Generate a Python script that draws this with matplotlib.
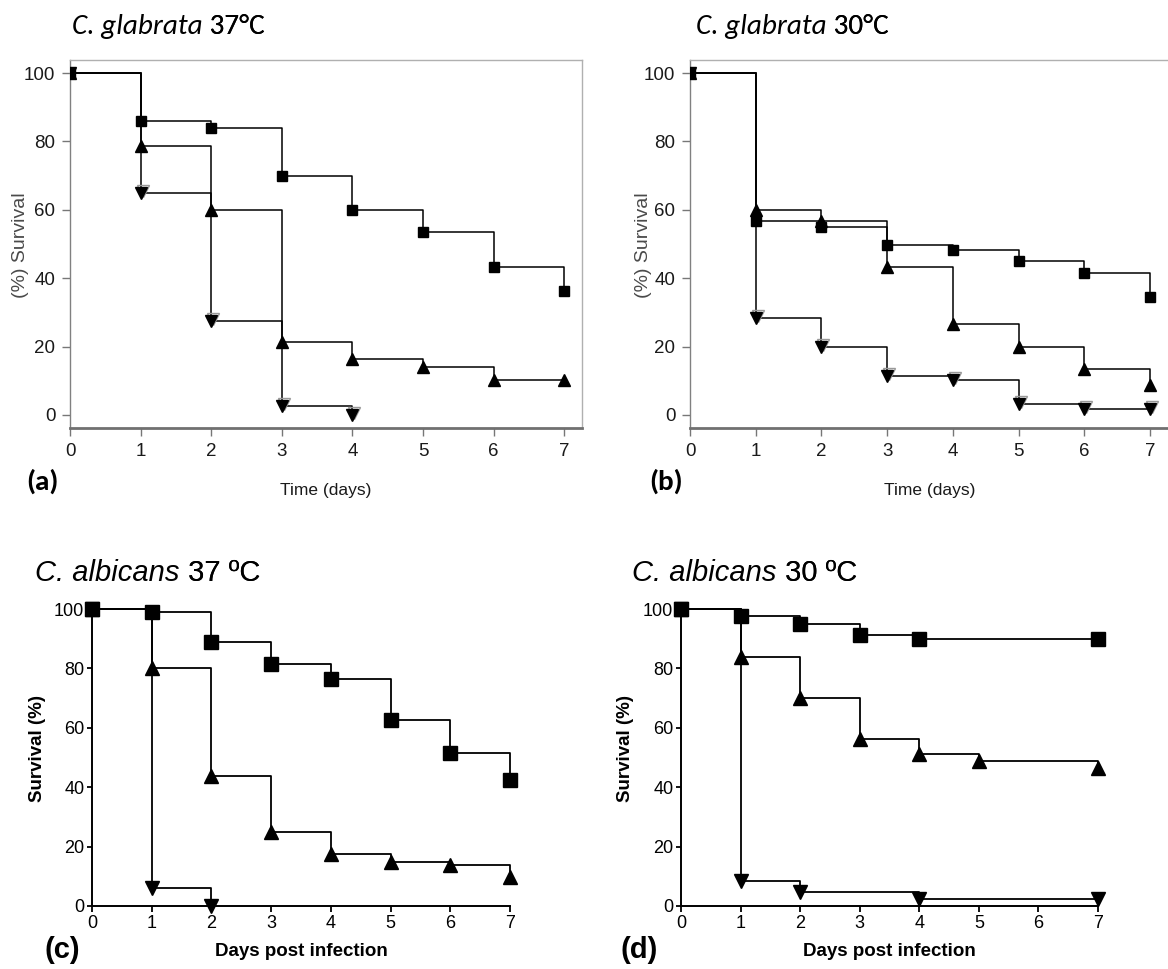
import matplotlib
matplotlib.use('Agg')
import matplotlib.pyplot as plt
from matplotlib import font_manager
from matplotlib.transforms import offset_copy

# survival curves (percent alive per day)
days = [0, 1, 2, 3, 4, 5, 6, 7]

a_sq = [100, 86, 83.8, 70, 60, 53.6, 43.4, 36.3]
a_tri = [100, 78.7, 60, 21.3, 16.3, 14.1, 10.2, 10.2]
a_inv_days = [0, 1, 2, 3, 4]
a_inv = [100, 64.8, 27.5, 2.5, 0]

b_sq = [100, 56.8, 54.9, 49.8, 48.3, 44.9, 41.4, 34.6]
b_tri = [100, 60, 56.6, 43.3, 26.7, 20, 13.4, 8.8]
b_inv = [100, 28.3, 20, 11.5, 10.1, 3.2, 1.7, 1.7]

c_sq = [100, 99, 88.8, 81.5, 76.5, 62.5, 51.5, 42.5]
c_tri = [100, 80.3, 43.8, 24.9, 17.5, 14.9, 13.8, 9.9]
c_inv_days = [0, 1, 2]
c_inv = [100, 6.2, 0]

d_sq_days = [0, 1, 2, 3, 4, 7]
d_sq = [100, 97.5, 94.9, 91.1, 90, 90]
d_tri_days = [0, 1, 2, 3, 4, 5, 7]
d_tri = [100, 83.8, 70, 56.3, 51.3, 48.7, 46.5]
d_inv_days = [0, 1, 2, 4, 7]
d_inv = [100, 8.5, 4.8, 2.4, 2.4]

titles = [('C. glabrata', ' 37°C'), ('C. glabrata', ' 30°C'),
          ('C. albicans', ' 37 ºC'), ('C. albicans', ' 30 ºC')]

names = {f.name for f in font_manager.fontManager.ttflist}
SANS = 'Liberation Sans Narrow' if 'Liberation Sans Narrow' in names else 'Liberation Sans'
CAL = 'Carlito' if 'Carlito' in names else 'Lato'

W, H = 1168, 969
fig = plt.figure(figsize=(W / 100, H / 100), dpi=100)


def px_axes(x0, y0, x1, y1):
    return fig.add_axes([x0 / W, 1 - y1 / H, (x1 - x0) / W, (y1 - y0) / H])


def ftext(x, y, s, **kw):
    return fig.text(x / W, 1 - y / H, s, **kw)


def curve(ax, x, y, marker, ms, lw, clip=True, shadow=False):
    ax.step(x, y, where='post', color='k', lw=lw, zorder=2, clip_on=clip)
    if shadow:
        tr = offset_copy(ax.transData, fig=fig, x=2, y=2, units='dots')
        ax.plot(x[1:], y[1:], marker, ms=ms, mfc='none', mec='#999999', mew=1,
                transform=tr, zorder=3, clip_on=clip)
    ax.plot(x, y, marker, color='k', ms=ms, zorder=4, clip_on=clip)


def glabrata_axes(ax, xmax):
    ax.set_xlim(0, xmax)
    ax.set_ylim(-3.95, 103.95)
    ax.set_xticks(range(8))
    ax.set_yticks(range(0, 101, 20))
    for s in ['top', 'right']:
        ax.spines[s].set_color('#b0b0b0')
        ax.spines[s].set_linewidth(1)
    ax.spines['left'].set_color('#808080')
    ax.spines['left'].set_linewidth(1)
    ax.spines['bottom'].set_color('#707070')
    ax.spines['bottom'].set_linewidth(2)
    ax.tick_params(direction='out', length=5.5, width=1, color='#777777',
                   labelcolor='#1a1a1a', pad=5)
    for lab in ax.get_xticklabels() + ax.get_yticklabels():
        lab.set_family(SANS)
        lab.set_fontsize(13.5)


def albicans_axes(ax):
    ax.set_xlim(0, 7)
    ax.set_ylim(0, 100)
    ax.set_xticks(range(8))
    ax.set_yticks(range(0, 101, 20))
    ax.spines['top'].set_visible(False)
    ax.spines['right'].set_visible(False)
    for s in ['left', 'bottom']:
        ax.spines[s].set_linewidth(1.4)
    ax.tick_params(direction='out', length=4.5, width=1.3, pad=2)
    ax.tick_params(axis='y', length=3.5)
    for lab in ax.get_xticklabels() + ax.get_yticklabels():
        lab.set_family(SANS)
        lab.set_fontsize(13)


# (a) C. glabrata 37
ax = px_axes(70, 59.5, 582, 428.5)
glabrata_axes(ax, 7.25)
curve(ax, a_inv_days, a_inv, 'v', 9, 1.1, shadow=True)
curve(ax, days, a_tri, '^', 9, 1.1)
curve(ax, days, a_sq, 's', 7.5, 1.1)

# (b) C. glabrata 30
ax = px_axes(690, 59.5, 1175, 428.5)
glabrata_axes(ax, 7.38)
curve(ax, days, b_inv, 'v', 9, 1.1, shadow=True)
curve(ax, days, b_tri, '^', 9, 1.1)
curve(ax, days, b_sq, 's', 7.5, 1.1)

# (c) C. albicans 37
ax = px_axes(92, 609, 510, 906)
albicans_axes(ax)
curve(ax, c_inv_days, c_inv, 'v', 10, 1.3, clip=False)
curve(ax, days, c_tri, '^', 10.5, 1.3, clip=False)
curve(ax, days, c_sq, 's', 10, 1.3, clip=False)

# (d) C. albicans 30
ax = px_axes(681, 609, 1098, 906)
albicans_axes(ax)
curve(ax, d_inv_days, d_inv, 'v', 10, 1.3, clip=False)
curve(ax, d_tri_days, d_tri, '^', 10.5, 1.3, clip=False)
curve(ax, d_sq_days, d_sq, 's', 10, 1.3, clip=False)

# titles: italic species name followed by upright temperature
title_pos = [(72, 34, CAL, 21), (696, 34, CAL, 21),
             (35, 581, 'Liberation Sans', 21), (632, 581, 'Liberation Sans', 21)]
for (sp, temp), (x, y, fam, fs) in zip(titles, title_pos):
    t = ftext(x, y, sp, family=fam, style='italic', fontsize=fs, va='baseline')
    an = plt.annotate(temp, xy=(1, 0), xycoords=t, family=fam, fontsize=fs,
                      va='bottom', ha='left', annotation_clip=False)
    fig.add_artist(an)

# panel letters
ftext(26, 481, '(a)', family=CAL, weight='bold', fontsize=21, va='center')
ftext(649, 481, '(b)', family=CAL, weight='bold', fontsize=21, va='center')
ftext(45, 950, '(c)', family='Liberation Sans', weight='bold', fontsize=21, va='center')
ftext(621, 950, '(d)', family='Liberation Sans', weight='bold', fontsize=21, va='center')

# axis titles
ftext(326, 490, 'Time (days)', family=SANS, fontsize=12.5, ha='center', va='center', color='#1a1a1a')
ftext(930, 490, 'Time (days)', family=SANS, fontsize=12.5, ha='center', va='center', color='#1a1a1a')
ftext(21, 245, '(%) Survival', family=SANS, fontsize=14, rotation=90,
      ha='center', va='center', color='#4a4a4a')
ftext(643, 245, '(%) Survival', family=SANS, fontsize=14, rotation=90,
      ha='center', va='center', color='#4a4a4a')
ftext(301, 951, 'Days post infection', family=SANS, weight='bold', fontsize=13.5,
      ha='center', va='center')
ftext(889, 951, 'Days post infection', family=SANS, weight='bold', fontsize=13.5,
      ha='center', va='center')
ftext(38, 748, 'Survival (%)', family=SANS, weight='bold', fontsize=13.5, rotation=90,
      ha='center', va='center')
ftext(625, 748, 'Survival (%)', family=SANS, weight='bold', fontsize=13.5, rotation=90,
      ha='center', va='center')

fig.savefig('out.png', dpi=100)
